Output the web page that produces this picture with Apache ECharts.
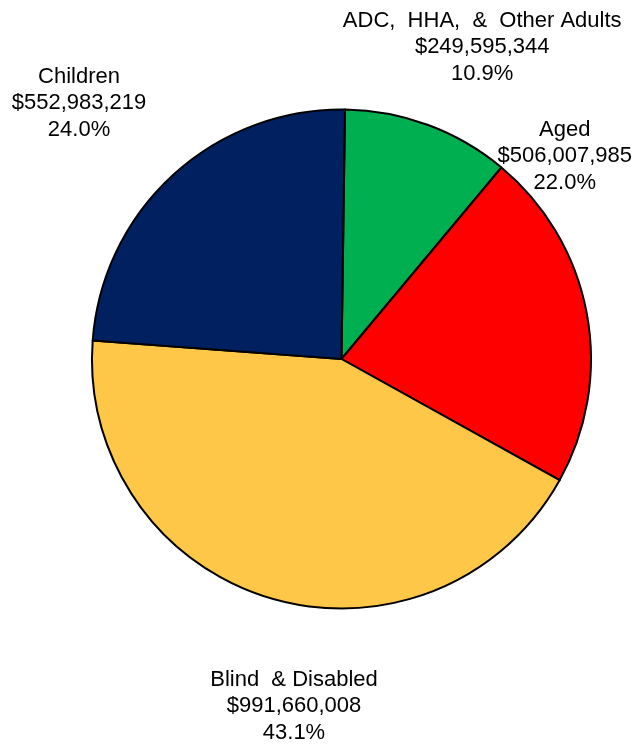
<!DOCTYPE html>
<html>
<head>
<meta charset="utf-8">
<style>
  html, body { margin: 0; padding: 0; background: #ffffff; }
  #chart { width: 639px; height: 744px; }
</style>
<script src="https://cdn.jsdelivr.net/npm/echarts@6/dist/echarts.min.js"></script>
</head>
<body>
<div id="chart"></div>
<script>
// Spending by eligibility group
const categories = ['ADC,  HHA,  &  Other Adults', 'Aged', 'Blind  & Disabled', 'Children'];
const amounts = [249595344, 506007985, 991660008, 552983219];
const sliceColors = ['#00B050', '#FF0000', '#FEC748', '#002060'];

// Where each label block sits, relative to the slice's mid point on the rim
const labelOffsets = [[54, -78], [-22, -157], [24, 108], [-94, -72]];

const chart = echarts.init(document.getElementById('chart'), null, { renderer: 'canvas' });

chart.setOption({
  animation: false,
  backgroundColor: '#ffffff',
  series: [{
    type: 'pie',
    center: [341.5, 359],
    radius: 249.5,
    startAngle: 89.2,
    clockwise: true,
    avoidLabelOverlap: false,
    percentPrecision: 1,
    itemStyle: { borderColor: '#000000', borderWidth: 2 },
    label: {
      show: true,
      position: 'outside',
      fontFamily: 'Liberation Sans, Arial, sans-serif',
      fontSize: 22,
      lineHeight: 26.5,
      color: '#000000',
      formatter: p => p.name + '\n$' + p.value.toLocaleString('en-US') + '\n' + p.percent.toFixed(1) + '%'
    },
    labelLine: { show: true, length: 0, length2: 0, lineStyle: { opacity: 0 } },
    labelLayout: params => {
      const pts = params.labelLinePoints;
      const off = labelOffsets[params.dataIndex];
      if (!pts) return {};
      return {
        x: pts[0][0] + off[0],
        y: pts[0][1] + off[1],
        align: 'center',
        verticalAlign: 'middle'
      };
    },
    emphasis: { disabled: true },
    data: categories.map((name, i) => ({
      name: name,
      value: amounts[i],
      itemStyle: { color: sliceColors[i] }
    }))
  }]
});
</script>
</body>
</html>
